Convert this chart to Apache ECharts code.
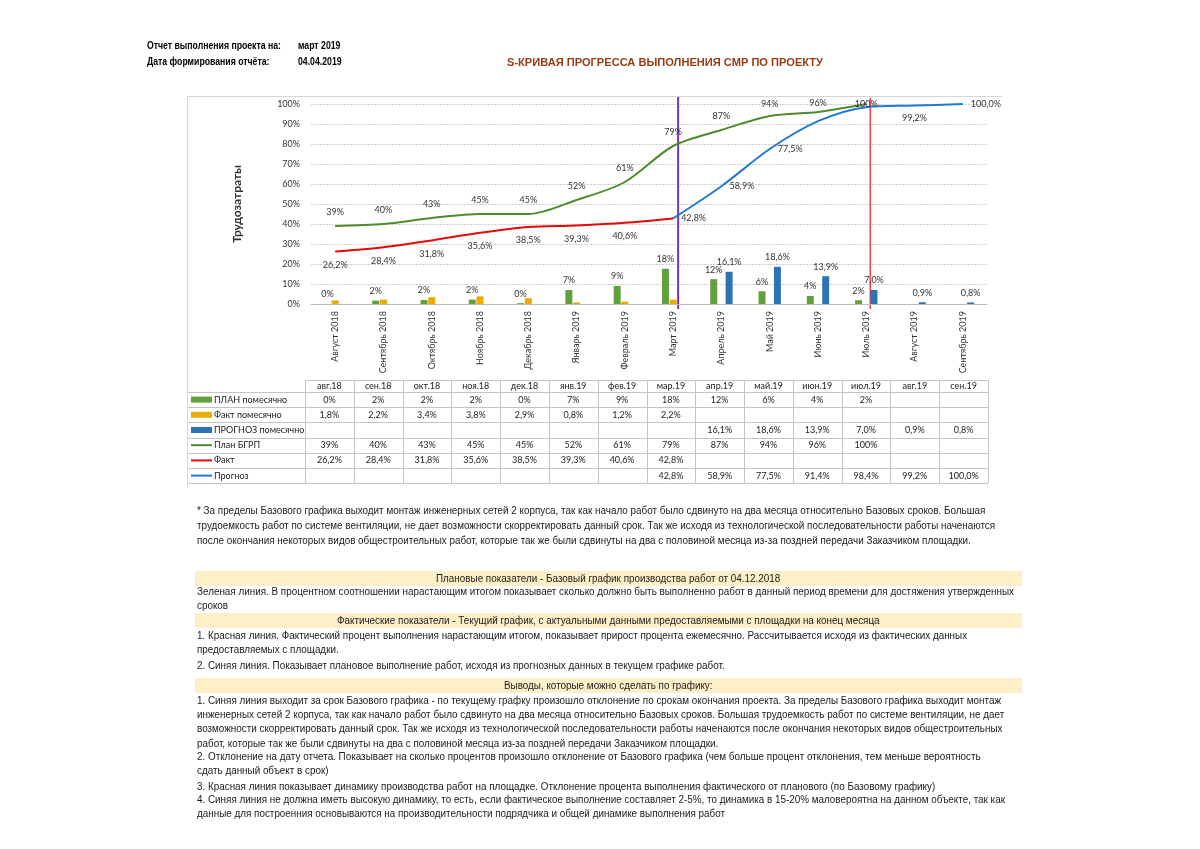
<!DOCTYPE html>
<html lang="ru"><head><meta charset="utf-8">
<script src="https://cdn.jsdelivr.net/npm/echarts@6.0.0/dist/echarts.min.js"></script>
<style>
html,body{margin:0;padding:0;background:#fff;width:1200px;height:849px;overflow:hidden}
#chart{position:absolute;left:0;top:0;width:1200px;height:849px}
.t{position:absolute;white-space:nowrap;font-family:'Liberation Sans',Arial,sans-serif;font-size:10px;color:#1a1a1a;line-height:12px;transform-origin:0 50%}
.b{font-weight:bold;color:#000}
.ybar{position:absolute;background:#fdf0c9}
</style>
</head><body>
<div id="chart"></div>
<div id="txt"></div>
<script>
// ---------- DATA ----------
const categories = ['Август 2018','Сентябрь 2018','Октябрь 2018','Ноябрь 2018','Декабрь 2018','Январь 2019','Февраль 2019','Март 2019','Апрель 2019','Май 2019','Июнь 2019','Июль 2019','Август 2019','Сентябрь 2019'];
const tableMonths = ['авг.18','сен.18','окт.18','ноя.18','дек.18','янв.19','фев.19','мар.19','апр.19','май.19','июн.19','июл.19','авг.19','сен.19'];
const planMonthly = [0, 1.7, 2, 2.2, 0.4, 7, 9, 17.6, 12.4, 6.4, 4, 1.9, null, null];
const factMonthly = [1.8, 2.2, 3.4, 3.8, 2.9, 0.8, 1.2, 2.2, null, null, null, null, null, null];
const forecastMonthly = [null, null, null, null, null, null, null, null, 16.1, 18.6, 13.9, 7.0, 0.9, 0.8];
const planCumulative = [39, 40, 43, 45, 45, 52, 61, 79, 87, 94, 96, 100, null, null];
const factCumulative = [26.2, 28.4, 31.8, 35.6, 38.5, 39.3, 40.6, 42.8, null, null, null, null, null, null];
const forecastCumulative = [null, null, null, null, null, null, null, 42.8, 58.9, 77.5, 91.4, 98.4, 99.2, 100.0];
const yMin = 0, yMax = 100, yStep = 10;
const reportMonth = 'Март 2019';
const baseEndMonth = 'Июль 2019';

// ---------- STYLE / LAYOUT ----------
const C = {
  planBar:'#62a03e', factBar:'#e9ac04', fcBar:'#2e74b5',
  planLine:'#4e8b2d', factLine:'#e30a0a', fcLine:'#2179d3',
  text:'#333333', grid:'#cfcfcf', border:'#c4c4c4'
};
const FONT = 'Lato, "Open Sans", sans-serif';
const planLabelPos = [null,null,null,null,null,null,null,null,null,null,null,'inside',null,null];
const planLabelDist = [9,9,9,9,9,9,9,9,9,7,4,9,9,9];
const factLabelShow = [1,1,1,1,1,1,1,0,0,0,0,0,0,0];
const fcLabelPos = [null,null,null,null,null,null,null,'right','right','right','none','none','bottom','right'];

const fmtInt = v => Math.round(v) + '%';
const fmtDec = v => v.toFixed(1).replace('.', ',') + '%';

const lbl = {fontSize:9, color:C.text, fontFamily:FONT};

function lineData(arr, posArr, def, distArr) {
  return arr.map((v, i) => {
    if (v == null) return null;
    const p = posArr[i] || def;
    if (p === 'none') return {value:v, label:{show:false}};
    const l = {position:p};
    if (distArr) l.distance = distArr[i];
    return {value:v, label:l};
  });
}

const chart = echarts.init(document.getElementById('chart'), null, {renderer:'canvas'});
const option = {
  animation:false,
  textStyle:{fontFamily:FONT},
  grid:{left:311, right:213, top:104, bottom:545, containLabel:false},
  xAxis:{type:'category', data:categories, axisLine:{lineStyle:{color:'#bdbdbd'}}, axisTick:{show:false},
    axisLabel:{rotate:90, fontSize:9, color:C.text, margin:7, fontFamily:FONT, interval:0}},
  yAxis:{type:'value', min:yMin, max:yMax, interval:yStep,
    axisLabel:{formatter:'{value}%', fontSize:9, color:C.text, margin:11, fontFamily:FONT},
    splitLine:{lineStyle:{color:C.grid, type:[2,1]}}, axisLine:{show:false}, axisTick:{show:false},
    name:'Трудозатраты', nameLocation:'middle', nameGap:68, nameTextStyle:{fontSize:12, fontWeight:'bold', color:'#333', fontFamily:FONT}},
  series:[
    {name:'ПЛАН помесячно', type:'bar', data:planMonthly, barWidth:7, barGap:'10%', itemStyle:{color:C.planBar},
      label:{show:true, position:'top', distance:5, formatter:p => fmtInt(p.value), ...lbl}},
    {name:'Факт помесячно', type:'bar', data:factMonthly, barWidth:7, barGap:'10%', itemStyle:{color:C.factBar}},
    {name:'ПРОГНОЗ помесячно', type:'bar', data:forecastMonthly, barWidth:7, barGap:'10%', itemStyle:{color:C.fcBar},
      label:{show:true, position:'top', distance:5, formatter:p => fmtDec(p.value), ...lbl}},
    {name:'План БГРП', type:'line', data:lineData(planCumulative, planLabelPos, 'top', planLabelDist), smooth:0.3, symbol:'circle', symbolSize:0,
      lineStyle:{color:C.planLine, width:2}, itemStyle:{color:C.planLine},
      label:{show:true, distance:9, formatter:p => fmtInt(p.value), ...lbl}},
    {name:'Факт', type:'line', data:factCumulative.map((v,i)=> v==null?null:{value:v, label:{show:!!factLabelShow[i]}}), smooth:0.3, symbol:'circle', symbolSize:0,
      lineStyle:{color:C.factLine, width:2}, itemStyle:{color:C.factLine},
      label:{show:true, position:'bottom', distance:9, formatter:p => fmtDec(p.value), ...lbl}},
    {name:'Прогноз', type:'line', data:lineData(forecastCumulative, fcLabelPos, 'right'), smooth:0.3, symbol:'circle', symbolSize:0,
      lineStyle:{color:C.fcLine, width:2}, itemStyle:{color:C.fcLine},
      label:{show:true, distance:8, formatter:p => fmtDec(p.value), ...lbl}}
  ]
};
chart.setOption(option);

// ---------- graphic: frame, markers, data table ----------
const G = [];
const ln = (x1,y1,x2,y2,color,w) => G.push({type:'line', silent:true, shape:{x1,y1,x2,y2}, style:{stroke:color, lineWidth:w||1}});
const tx = (x,y,text,align,extra) => G.push({type:'text', silent:true, x, y, style:Object.assign({text, fill:'#222', font:'9px '+FONT, textAlign:align||'center', textVerticalAlign:'middle'}, extra||{})});

// frame
ln(187.5, 96.5, 1002, 96.5, '#d6d6d6');
ln(187.5, 96.5, 187.5, 488, '#d6d6d6');

// marker lines (positions from axis scale)
const yTop = chart.convertToPixel({yAxisIndex:0}, yMax) - 7;
const yBot = chart.convertToPixel({yAxisIndex:0}, yMin) + 5;
const xRep = chart.convertToPixel({xAxisIndex:0}, reportMonth) + 5;
const xEnd = chart.convertToPixel({xAxisIndex:0}, baseEndMonth) + 4;
ln(xRep, yTop, xRep, yBot, '#7b2fb0', 2);
ln(xEnd, yTop+1, xEnd, yBot, '#ff3b3b', 1.5);

// data table
const tL = 188, tC = 305, tR = 988, tTop = 380, hH = 12, rH = 15.2;
const colW = (tR - tC) / tableMonths.length;
const rows = [
  {name:'ПЛАН помесячно', data:planMonthly, fmt:fmtInt, key:'bar', color:C.planBar},
  {name:'Факт помесячно', data:factMonthly, fmt:fmtDec, key:'bar', color:C.factBar},
  {name:'ПРОГНОЗ помесячно', data:forecastMonthly, fmt:fmtDec, key:'bar', color:C.fcBar},
  {name:'План БГРП', data:planCumulative, fmt:fmtInt, key:'line', color:C.planLine},
  {name:'Факт', data:factCumulative, fmt:fmtDec, key:'line', color:C.factLine},
  {name:'Прогноз', data:forecastCumulative, fmt:fmtDec, key:'line', color:C.fcLine}
];
const tBot = tTop + hH + rH * rows.length;
ln(tC, tTop+0.5, tR, tTop+0.5, C.border);
for (let r = 0; r <= rows.length; r++) {
  const y = Math.round(tTop + hH + r * rH) + 0.5;
  ln(tL, y, tR, y, C.border);
}
for (let c = 0; c <= tableMonths.length; c++) {
  const x = Math.round(tC + c * colW) + 0.5;
  ln(x, tTop, x, tBot, C.border);
}
tableMonths.forEach((m, c) => tx(tC + (c + 0.5) * colW, tTop + hH/2 + 0.5, m));
rows.forEach((row, r) => {
  const yc = tTop + hH + (r + 0.5) * rH;
  if (row.key === 'bar') G.push({type:'rect', silent:true, shape:{x:191, y:yc-3, width:21, height:6}, style:{fill:row.color}});
  else ln(191, yc, 212, yc, row.color, 2);
  tx(214, yc, row.name, 'left');
  row.data.forEach((v, c) => { if (v != null) tx(tC + (c + 0.5) * colW, yc, row.fmt(v)); });
});
chart.setOption({graphic:{elements:G}});

// ---------- page texts ----------
const body = [
  ['* За пределы Базового графика выходит монтаж инженерных сетей 2 корпуса, так как начало работ было сдвинуто на два месяца относительно Базовых сроков. Большая', 197, 511],
  ['трудоемкость работ по системе вентиляции, не дает возможности скорректировать данный срок. Так же исходя из технологической последовательности работы наченаются', 197, 526],
  ['после окончания некоторых видов общестроительных работ, которые так же были сдвинуты на два с половиной месяца из-за поздней передачи Заказчиком площадки.', 197, 541],
  ['Зеленая линия. В процентном соотношении нарастающим итогом показывает сколько должно быть выполненно работ в данный период времени для достяжения утвержденных', 197, 592],
  ['сроков', 197, 606],
  ['1. Красная линия. Фактический процент выполнения нарастающим итогом, показывает прирост процента ежемесячно. Рассчитывается исходя из фактических данных', 197, 636],
  ['предоставляемых с площадки.', 197, 650],
  ['2. Синяя линия. Показывает плановое выполнение работ, исходя из прогнозных данных в текущем графике работ.', 197, 666],
  ['1. Синяя линия выходит за срок Базового графика - по текущему графку произошло отклонение по срокам окончания проекта. За пределы Базового графика выходит монтаж', 197, 701],
  ['инженерных сетей 2 корпуса, так как начало работ было сдвинуто на два месяца относительно Базовых сроков. Большая трудоемкость работ по системе вентиляции, не дает', 197, 715],
  ['возможности скорректировать данный срок. Так же исходя из технологической последовательности работы наченаются после окончания некоторых видов общестроительных', 197, 729],
  ['работ, которые так же были сдвинуты на два с половиной месяца из-за поздней передачи Заказчиком площадки.', 197, 744],
  ['2. Отклонение на дату отчета. Показывает на сколько процентов произошло отклонение от Базового графика (чем больше процент отклонения, тем меньше вероятность', 197, 757],
  ['сдать данный объект в срок)', 197, 771],
  ['3. Красная линия показывает динамику производства работ на площадке. Отклонение процента выполнения фактического от планового (по Базовому графику)', 197, 787],
  ['4. Синяя линия не должна иметь высокую динамику, то есть, если фактическое выполнение составляет 2-5%, то динамика в 15-20% маловероятна на данном объекте, так как', 197, 800],
  ['данные для построенния основываются на производительности подрядчика и общей динамике выполнения работ', 197, 814]
];
const bars = [
  ['Плановые показатели - Базовый график производства работ от 04.12.2018', 571, 586],
  ['Фактические показатели - Текущий график, с актуальными данными предоставляемыми с площадки на конец месяца', 613, 628],
  ['Выводы, которые можно сделать по графику:', 678, 693]
];
const txt = document.getElementById('txt');
function mk(text, x, y, cls) {
  const d = document.createElement('div');
  d.className = 't ' + (cls || '');
  d.textContent = text;
  d.style.left = x + 'px';
  d.style.top = (y - 6) + 'px';
  txt.appendChild(d);
  return d;
}
bars.forEach(b => {
  const r = document.createElement('div');
  r.className = 'ybar';
  r.style.left = '195px'; r.style.width = '827px';
  r.style.top = b[1] + 'px'; r.style.height = (b[2] - b[1]) + 'px';
  txt.appendChild(r);
});
const bodyEls = body.map(b => mk(b[0], b[1], b[2]));
const ref = bodyEls[3];
const f = 817 / ref.getBoundingClientRect().width;
bodyEls.forEach(e => e.style.transform = 'scaleX(' + f + ')');
bars.forEach(b => {
  const e = mk(b[0], 0, (b[1] + b[2]) / 2);
  const w = e.getBoundingClientRect().width * f;
  e.style.left = (608 - w / 2) + 'px';
  e.style.transform = 'scaleX(' + f + ')';
});
// header
const h1 = mk('Отчет выполнения проекта на:', 147, 46, 'b');
const fh = 134 / h1.getBoundingClientRect().width;
[h1, mk('март 2019', 298, 46, 'b'), mk('Дата формирования отчёта:', 147, 62, 'b'), mk('04.04.2019', 298, 62, 'b')]
  .forEach(e => e.style.transform = 'scaleX(' + fh + ')');
const title = mk('S-КРИВАЯ ПРОГРЕССА ВЫПОЛНЕНИЯ СМР ПО ПРОЕКТУ', 507, 62, 'b');
title.style.fontSize = '11px'; title.style.color = '#963c12';
title.style.transform = 'scaleX(' + (316 / title.getBoundingClientRect().width) + ')';
</script>
</body></html>
